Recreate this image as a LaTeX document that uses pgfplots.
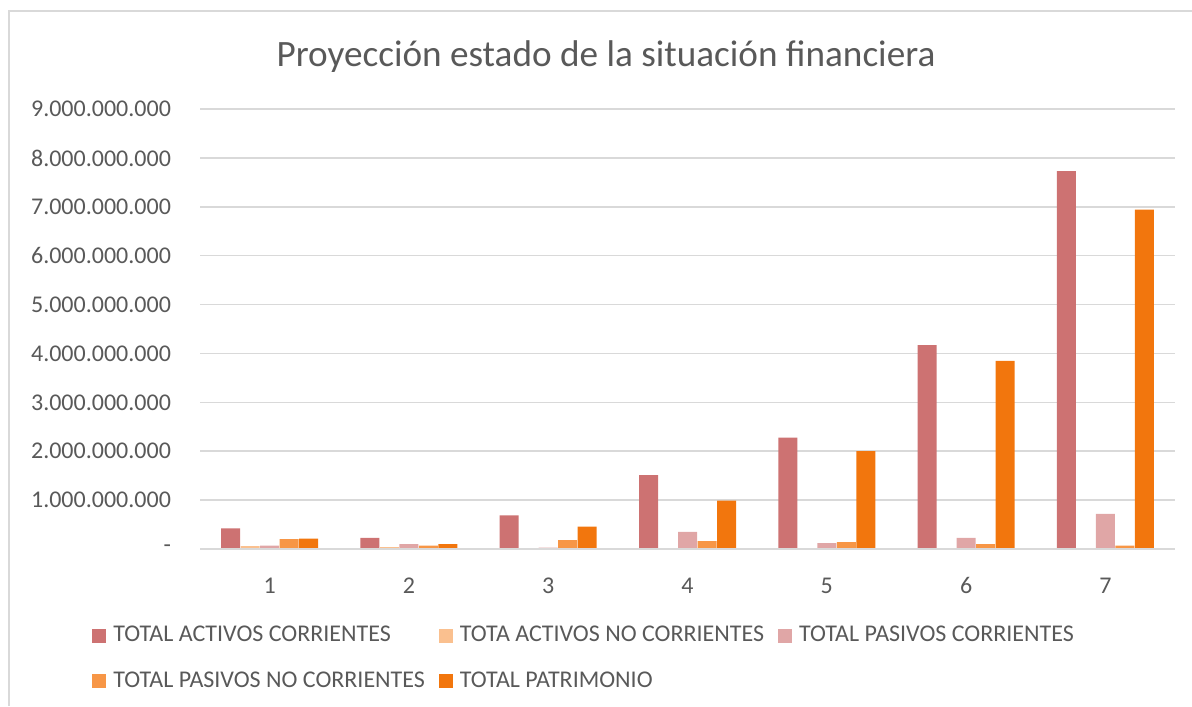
\documentclass[border=0pt]{standalone}
\usepackage{pgfplots}
\pgfplotsset{compat=1.18}
\usepackage{fontspec}
\setmainfont{Carlito}
\definecolor{txt}{RGB}{89,89,89}
\definecolor{grd}{RGB}{217,217,217}
\definecolor{cA}{RGB}{205,114,114}
\definecolor{cB}{RGB}{250,192,143}
\definecolor{cC}{RGB}{224,166,166}
\definecolor{cD}{RGB}{247,150,70}
\definecolor{cE}{RGB}{242,118,13}
\begin{document}
\begin{tikzpicture}
\path[use as bounding box] (-100pt,-78.5pt) rectangle (496pt,274.5pt);
\draw[grd, line width=0.8pt] (-95.5pt,-78.5pt) -- (-95.5pt,269pt) -- (496pt,269pt);
\begin{axis}[
  at={(0,0)}, anchor=south west,
  scale only axis, width=487.5pt, height=220pt,
  xmin=0.5, xmax=7.5, ymin=0, ymax=9000000000,
  ybar=0.25pt, bar width=9.5pt,
  axis line style={draw=none},
  axis x line*=bottom,
  tick style={draw=none},
  xtick={1,2,3,4,5,6,7}, xticklabels={1,2,3,4,5,6,7},
  ytick={0,1000000000,2000000000,3000000000,4000000000,5000000000,6000000000,7000000000,8000000000,9000000000},
  yticklabels={-,1.000.000.000,2.000.000.000,3.000.000.000,4.000.000.000,5.000.000.000,6.000.000.000,7.000.000.000,8.000.000.000,9.000.000.000},
  scaled y ticks=false,
  /pgf/number format/assume math mode=true,
  ticklabel style={font=\fontsize{12}{14}\selectfont, text=txt},
  yticklabel style={xshift=-11pt},
  xticklabel style={yshift=-6.5pt},
  ymajorgrids, grid style={grd, line width=0.75pt},
  legend columns=3,
  legend cell align=left,
  legend style={draw=none, fill=none, at={(0,0)}, anchor=north west, xshift=-54pt, yshift=-36.5pt,
    font=\fontsize{12}{14}\selectfont, text=txt, inner sep=0pt, row sep=9.5pt,
    /tikz/every even column/.append style={column sep=5pt},
    /tikz/every odd column/.append style={column sep=1.5pt}},
  legend image code/.code={\fill[#1] (0pt,-3.5pt) rectangle (7pt,3.5pt);},
]
\addplot[fill=cA, draw=none] coordinates {(1,420000000) (2,230000000) (3,690000000) (4,1510000000) (5,2280000000) (6,4170000000) (7,7730000000)};
\addlegendentry{TOTAL ACTIVOS CORRIENTES}
\addplot[fill=cB, draw=none] coordinates {(1,60000000) (2,40000000) (3,0) (4,0) (5,0) (6,0) (7,0)};
\addlegendentry{TOTA ACTIVOS NO CORRIENTES}
\addplot[fill=cC, draw=none] coordinates {(1,70000000) (2,100000000) (3,30000000) (4,350000000) (5,120000000) (6,230000000) (7,720000000)};
\addlegendentry{TOTAL PASIVOS CORRIENTES}
\addplot[fill=cD, draw=none] coordinates {(1,200000000) (2,70000000) (3,180000000) (4,160000000) (5,140000000) (6,100000000) (7,70000000)};
\addlegendentry{TOTAL PASIVOS NO CORRIENTES}
\addplot[fill=cE, draw=none] coordinates {(1,210000000) (2,100000000) (3,460000000) (4,990000000) (5,2000000000) (6,3850000000) (7,6940000000)};
\addlegendentry{TOTAL PATRIMONIO}
\draw[grd, line width=0.9pt] (rel axis cs:0,0) -- (rel axis cs:1,0);
\end{axis}
\node[text=txt, font=\fontsize{18.6}{22}\selectfont] at (203pt,246pt) {Proyección estado de la situación financiera};
\end{tikzpicture}
\end{document}
